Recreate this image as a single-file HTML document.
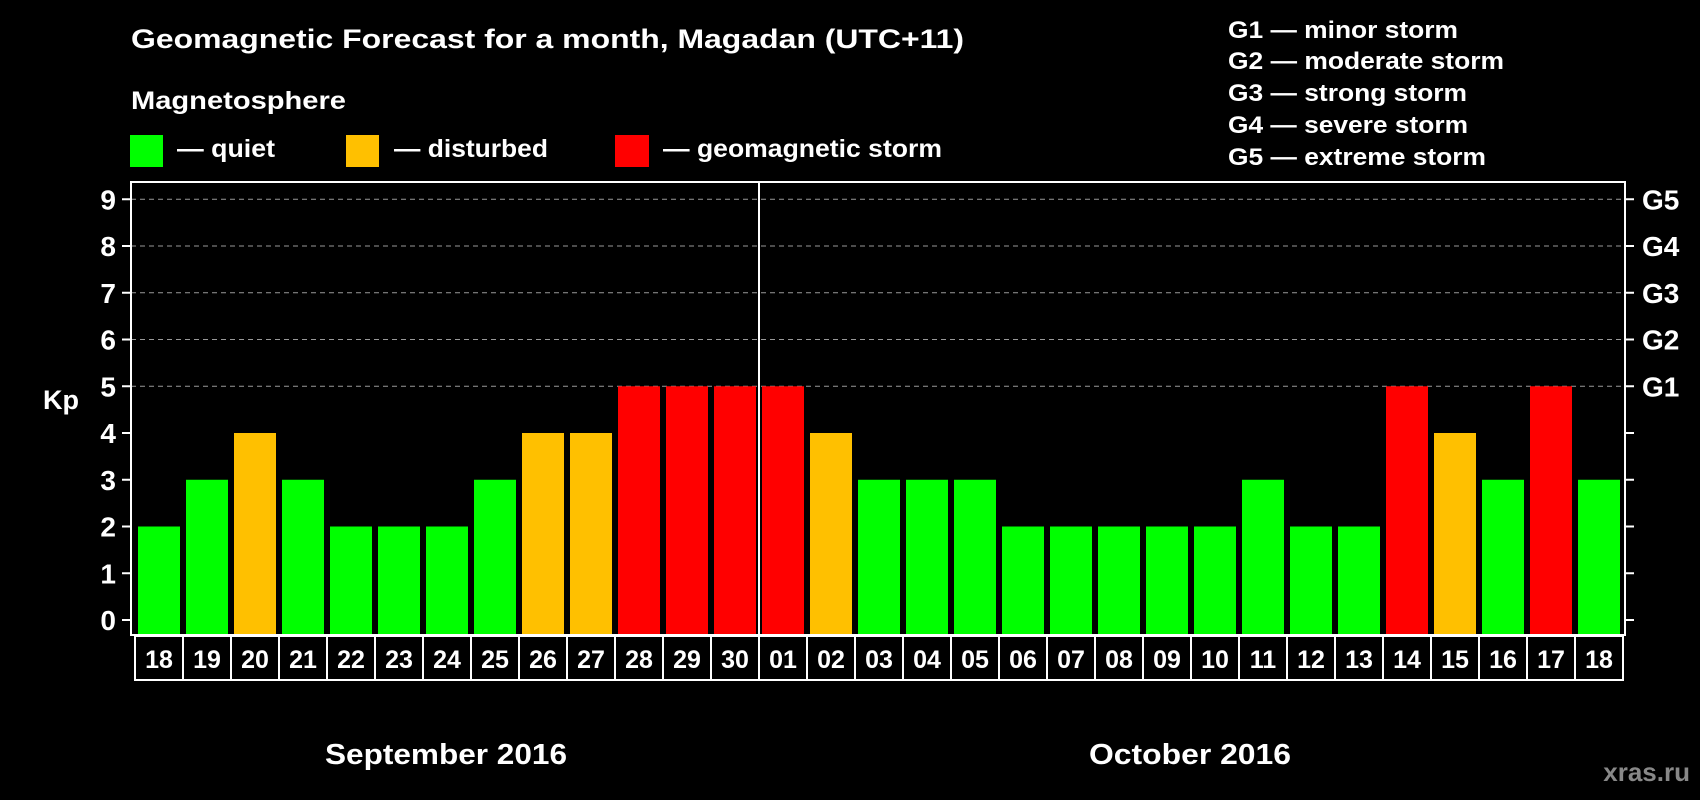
<!DOCTYPE html>
<html><head><meta charset="utf-8"><style>
html,body{margin:0;padding:0;background:#000;}
svg{display:block;font-family:"Liberation Sans",Arial,sans-serif;font-weight:bold;}
</style></head><body>
<svg id="chart" width="1700" height="800" viewBox="0 0 1700 800" xmlns="http://www.w3.org/2000/svg">
<rect width="1700" height="800" fill="#000"/>
<text x="131" y="48" fill="#fff" font-size="27" textLength="833" lengthAdjust="spacingAndGlyphs">Geomagnetic Forecast for a month, Magadan (UTC+11)</text>
<text x="131" y="109" fill="#fff" font-size="25" textLength="215" lengthAdjust="spacingAndGlyphs">Magnetosphere</text>
<g>
<rect x="130" y="135" width="33" height="32" fill="#00ff00"/>
<text x="177" y="157" fill="#fff" font-size="25" textLength="98" lengthAdjust="spacingAndGlyphs">— quiet</text></g>
<g>
<rect x="346" y="135" width="33" height="32" fill="#ffc000"/>
<text x="394" y="157" fill="#fff" font-size="25" textLength="154" lengthAdjust="spacingAndGlyphs">— disturbed</text></g>
<g>
<rect x="615" y="135" width="34" height="32" fill="#ff0000"/>
<text x="663" y="157" fill="#fff" font-size="25" textLength="279" lengthAdjust="spacingAndGlyphs">— geomagnetic storm</text></g>
<g fill="#fff" font-size="24">
<text x="1228" y="38" textLength="230" lengthAdjust="spacingAndGlyphs">G1 — minor storm</text>
<text x="1228" y="69" textLength="276" lengthAdjust="spacingAndGlyphs">G2 — moderate storm</text>
<text x="1228" y="101" textLength="239" lengthAdjust="spacingAndGlyphs">G3 — strong storm</text>
<text x="1228" y="133" textLength="240" lengthAdjust="spacingAndGlyphs">G4 — severe storm</text>
<text x="1228" y="165" textLength="258" lengthAdjust="spacingAndGlyphs">G5 — extreme storm</text>
</g>
<text x="43" y="409" fill="#fff" font-size="27">Kp</text>
<g id="grid"></g>
<g id="bars"></g>
<g id="axes"></g>
<text x="446" y="764" fill="#fff" font-size="29" text-anchor="middle" textLength="242" lengthAdjust="spacingAndGlyphs">September 2016</text>
<text x="1190" y="764" fill="#fff" font-size="29" text-anchor="middle" textLength="202" lengthAdjust="spacingAndGlyphs">October 2016</text>
<text x="1690" y="781" fill="#888" font-size="26" text-anchor="end">xras.ru</text>
</svg>
<script>
const days = ["18","19","20","21","22","23","24","25","26","27","28","29","30","01","02","03","04","05","06","07","08","09","10","11","12","13","14","15","16","17","18"];
const kp = [2,3,4,3,2,2,2,3,4,4,5,5,5,5,4,3,3,3,2,2,2,2,2,3,2,2,5,4,3,5,3];
const yTicks = [0,1,2,3,4,5,6,7,8,9];
const gLabels = ["G1","G2","G3","G4","G5"];
const gLevels = [5,6,7,8,9];

const NS="http://www.w3.org/2000/svg";
const plotL=131, plotR=1625, plotT=182, plotB=635;
const y0=620, unit=46.75;
const bandX0=135, band=48, barW=42;
function yS(v){return y0 - v*unit;}
function xS(i){return bandX0 + i*band;}
function mk(tag, attrs, parent){const e=document.createElementNS(NS,tag);for(const k in attrs)e.setAttribute(k,attrs[k]);parent.appendChild(e);return e;}
function color(v){return v>=5?"#ff0000":(v>=4?"#ffc000":"#00ff00");}

const grid=document.getElementById("grid"), bars=document.getElementById("bars"), axes=document.getElementById("axes");
gLevels.forEach((lv)=>{
  const l=mk("line",{x1:plotL,x2:plotR,y1:yS(lv),y2:yS(lv),stroke:"#999","stroke-width":1,"stroke-dasharray":"5,4"},grid);
  
  
});
kp.forEach((v,i)=>{
  const r=mk("rect",{x:xS(i)+3,y:yS(v),width:barW,height:plotB-yS(v),fill:color(v)},bars);
  
  
});
mk("rect",{x:plotL,y:plotT,width:plotR-plotL,height:plotB-plotT,fill:"none",stroke:"#fff","stroke-width":2},axes);
const div=mk("line",{x1:xS(13),x2:xS(13),y1:plotT,y2:plotB,stroke:"#fff","stroke-width":2},axes);


yTicks.forEach((t)=>{
  mk("line",{x1:122,x2:plotL,y1:yS(t),y2:yS(t),stroke:"#fff","stroke-width":2},axes);
  mk("line",{x1:plotR,x2:plotR+9,y1:yS(t),y2:yS(t),stroke:"#fff","stroke-width":2},axes);
  const tx=mk("text",{x:116,y:yS(t)+10,fill:"#fff","font-size":28,"text-anchor":"end"},axes);
  tx.textContent=t;
  
  
});
gLabels.forEach((g,i)=>{
  const tx=mk("text",{x:1642,y:yS(gLevels[i])+10,fill:"#fff","font-size":28},axes);
  tx.textContent=g;
  
  
});
days.forEach((d,i)=>{
  const c=mk("rect",{x:xS(i),y:636,width:band,height:44,fill:"none",stroke:"#fff","stroke-width":2},axes);
  
  
  const tx=mk("text",{x:xS(i)+band/2,y:668,fill:"#fff","font-size":25,"text-anchor":"middle"},axes);
  tx.textContent=d;
  
  
});
</script>
</body></html>
